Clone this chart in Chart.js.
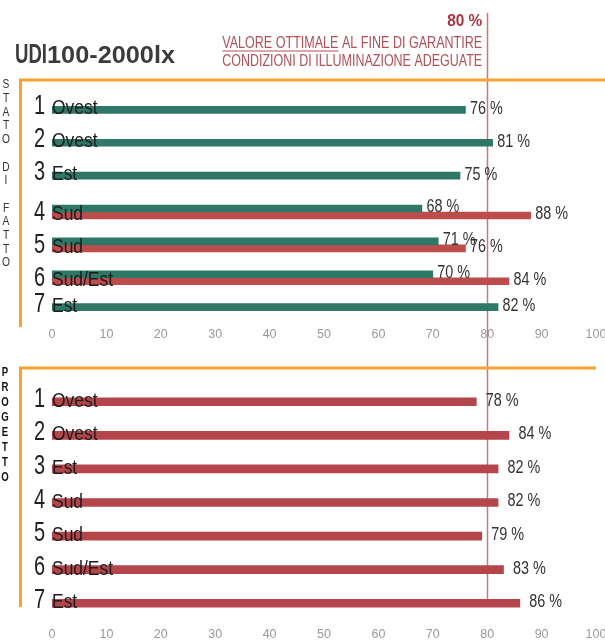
<!DOCTYPE html>
<html>
<head>
<meta charset="utf-8">
<script src="https://cdn.jsdelivr.net/npm/chart.js@4"></script>
<style>
  html, body { margin: 0; padding: 0; background: #fff; }
  #wrap { position: relative; width: 605px; height: 640px; overflow: hidden; }
  #wrap canvas { position: absolute; left: 0; top: 0; }
</style>
</head>
<body>
<div id="wrap">
  <canvas id="stato" width="605" height="640"></canvas>
  <canvas id="progetto" width="605" height="640"></canvas>
</div>
<script>
// Rooms: number + exposure
const roomNumbers = ['1', '2', '3', '4', '5', '6', '7'];
const exposures = ['Ovest', 'Ovest', 'Est', 'Sud', 'Sud', 'Sud/Est', 'Est'];

// UDI 100-2000 lx, current state (two measurement series)
const statoGreen = [76, 81, 75, 68, 71, 70, 82];
const statoRed = [null, null, null, 88, 76, 84, null];

// UDI 100-2000 lx, project
const progettoRed = [78, 84, 82, 82, 79, 83, 86];

// Target value and axis ticks
const threshold = 80;
const axisMin = 0, axisMax = 100, axisStep = 10;

const SANS = '"Liberation Sans", Arial, sans-serif';
const TICK_FONT = '"Liberation Sans Narrow", "Liberation Sans", Arial, sans-serif';
const GREEN = '#2f7767';
const RED_TOP = '#bd4c4d';
const RED_BOTTOM = '#b4464b';
const ORANGE = '#f6a42c';
const LINE_RED = '#c9777e';

// Text helper with horizontal compression (narrow face look)
function txt(ctx, s, x, y, font, color, align, base, sx) {
  ctx.save();
  ctx.translate(x, y);
  ctx.scale(sx, 1);
  ctx.font = font;
  ctx.fillStyle = color;
  ctx.textAlign = align;
  ctx.textBaseline = base;
  ctx.fillText(s, 0, 0);
  ctx.restore();
}
function measure(ctx, s, font) {
  ctx.save(); ctx.font = font; const w = ctx.measureText(s).width; ctx.restore();
  return w;
}
function txtFit(ctx, s, x, y, font, color, align, base, width) {
  txt(ctx, s, x, y, font, color, align, base, width / measure(ctx, s, font));
}

// Room labels over the bar starts and percentage labels at the bar ends
const rowLabels = {
  id: 'rowLabels',
  afterDatasetsDraw(chart, args, opts) {
    const ctx = chart.ctx;
    const metas = chart.getSortedVisibleDatasetMetas();
    const n = chart.data.labels.length;
    for (let i = 0; i < n; i++) {
      let bottom = -Infinity;
      metas.forEach(m => {
        const v = chart.data.datasets[m.index].data[i];
        const el = m.data[i];
        if (v == null) return;
        bottom = Math.max(bottom, el.y + el.height / 2);
        txt(ctx, v + ' %', el.x + opts.gap, el.y - 1, '18px ' + SANS, '#333', 'left', 'middle', 0.8);
      });
      txt(ctx, roomNumbers[i], 45, bottom + 1, '27px ' + SANS, '#222', 'right', 'alphabetic', 0.74);
      txt(ctx, exposures[i], 52, bottom + 1, '21px ' + SANS, '#1c1c1c', 'left', 'alphabetic', 0.83);
    }
  }
};

// Orange frame and vertical side caption
const frame = {
  id: 'frame',
  afterDraw(chart, args, o) {
    const ctx = chart.ctx;
    ctx.save();
    ctx.strokeStyle = ORANGE;
    ctx.lineWidth = 3;
    ctx.beginPath();
    ctx.moveTo(19, o.top);
    ctx.lineTo(o.right, o.top);
    ctx.moveTo(20.5, o.top - 1.5);
    ctx.lineTo(20.5, o.bottom);
    ctx.stroke();
    ctx.restore();
    let y = o.capStart;
    for (const ch of o.caption) {
      if (ch !== ' ') txt(ctx, ch, o.capX, y, o.capFont, o.capColor, 'center', 'middle', o.capScale);
      y += o.capStep;
    }
  }
};

// Threshold line, header and title (drawn once, on the upper chart)
const header = {
  id: 'header',
  beforeDatasetsDraw(chart) {
    const ctx = chart.ctx;
    const x = Math.round(chart.scales.x.getPixelForValue(threshold)) + 0.5;
    ctx.save();
    ctx.strokeStyle = LINE_RED;
    ctx.lineWidth = 1.5;
    ctx.beginPath();
    ctx.moveTo(x, 13);
    ctx.lineTo(x, 602);
    ctx.stroke();
    ctx.restore();
  },
  afterDraw(chart) {
    const ctx = chart.ctx;
    const xr = chart.scales.x.getPixelForValue(threshold) - 5;
    txtFit(ctx, threshold + ' %', xr, 26, 'bold 16px ' + SANS, '#a8343f', 'right', 'alphabetic', 35);
    const l1a = 'VALORE OTTIMALE';
    const l1 = l1a + ' AL FINE DI GARANTIRE';
    const f1 = '16.5px ' + SANS;
    const w1 = 260;
    txtFit(ctx, l1, xr, 48, f1, '#b0505a', 'right', 'alphabetic', w1);
    const k = w1 / measure(ctx, l1, f1);
    const uw = measure(ctx, l1a, f1) * k;
    ctx.save();
    ctx.strokeStyle = '#b0505a';
    ctx.lineWidth = 1.2;
    ctx.beginPath();
    ctx.moveTo(xr - w1, 51);
    ctx.lineTo(xr - w1 + uw, 51);
    ctx.stroke();
    ctx.restore();
    txtFit(ctx, 'CONDIZIONI DI ILLUMINAZIONE ADEGUATE', xr, 66, f1, '#b0505a', 'right', 'alphabetic', w1);
    txtFit(ctx, 'UDI', 15, 63, 'bold 28px ' + SANS, '#3b3b3b', 'left', 'alphabetic', 32);
    txtFit(ctx, '100-2000lx', 47, 63, 'bold 23px ' + SANS, '#3b3b3b', 'left', 'alphabetic', 128);
  }
};

function xAxis(pad) {
  return {
    type: 'linear',
    min: axisMin,
    max: axisMax,
    grid: { display: false, drawTicks: false },
    border: { display: false },
    ticks: {
      stepSize: axisStep,
      padding: pad,
      color: '#999999',
      font: { family: TICK_FONT, size: 12.5 }
    },
    afterFit(scale) {
      scale.height = 20;
      scale.paddingLeft = 0;
      scale.paddingRight = 0;
    }
  };
}

const common = {
  responsive: false,
  animation: false,
  indexAxis: 'y',
  plugins: { legend: { display: false }, tooltip: { enabled: false } }
};

new Chart(document.getElementById('stato'), {
  type: 'bar',
  data: {
    labels: exposures,
    datasets: [
      { data: statoGreen, backgroundColor: GREEN, barThickness: 7, borderWidth: 0 },
      { data: statoRed, backgroundColor: RED_TOP, barThickness: 7, borderWidth: 0 }
    ]
  },
  options: Object.assign({}, common, {
    layout: { padding: { left: 52, right: 9, top: 97, bottom: 293 } },
    scales: { x: xAxis(0), y: { display: false } },
    plugins: Object.assign({}, common.plugins, {
      rowLabels: { gap: 4.5 },
      frame: {
        top: 80, right: 605, bottom: 327,
        caption: 'STATO DI FATTO', capX: 6, capStart: 85, capStep: 13.7,
        capFont: '12px ' + SANS, capColor: '#333', capScale: 0.85
      }
    })
  }),
  plugins: [header, rowLabels, frame]
});

new Chart(document.getElementById('progetto'), {
  type: 'bar',
  data: {
    labels: exposures,
    datasets: [
      { data: progettoRed, backgroundColor: RED_BOTTOM, barThickness: 8, borderWidth: 0 }
    ]
  },
  options: Object.assign({}, common, {
    layout: { padding: { left: 52, right: 9, top: 385, bottom: 0 } },
    scales: { x: xAxis(7), y: { display: false } },
    plugins: Object.assign({}, common.plugins, {
      rowLabels: { gap: 9.5 },
      frame: {
        top: 368, right: 596, bottom: 607,
        caption: 'PROGETTO', capX: 5, capStart: 373, capStep: 14.9,
        capFont: 'bold 12px ' + SANS, capColor: '#111', capScale: 0.8
      }
    })
  }),
  plugins: [rowLabels, frame]
});
</script>
</body>
</html>
